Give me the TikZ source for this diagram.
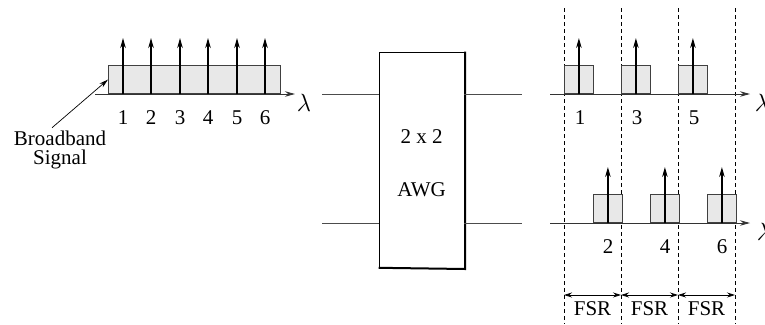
\documentclass[tikz,border=0pt]{standalone}
\usepackage{fontspec}
\setmainfont{Liberation Serif}
\usetikzlibrary{arrows.meta,positioning}

\begin{document}
\begin{tikzpicture}[
        x=1pt, y=-1pt,
        every node/.style={font=\fontsize{21}{19}\selectfont, inner sep=0pt},
        lam/.style={font=\fontsize{25}{25}\selectfont},
        band/.style={draw=black!75, fill=gray!18, line width=0.8pt, anchor=south west, minimum height=28pt},
        axis/.style={-{Stealth[length=10pt,width=5.5pt]}, line width=0.9pt, black!80},
        spike/.style={-{Stealth[length=10pt,width=5.5pt]}, line width=1.4pt},
        wire/.style={line width=0.8pt, black!70},
        fsr/.style={line width=0.6pt, dash pattern=on 4pt off 3pt},
        span/.style={{Stealth[length=8pt,width=5pt]}-{Stealth[length=8pt,width=5pt]}, line width=0.8pt}
    ]
        \useasboundingbox (0,0) rectangle (765,324);

        % input spectrum
        \node[band, minimum width=172pt] (bb) at (108,94) {};
        \coordinate (ax0) at (95,94);
        \coordinate (ax1) at (295,94);
        \draw[axis] (ax0) -- (ax1);
        \foreach \k/\x in {1/123,2/151,3/180,4/208,5/237,6/265} {
            \coordinate (s\k) at (\x,94);
            \coordinate (t\k) at (\x,38);
            \draw[spike] (s\k) -- (t\k);
            \node (n\k) at (\x,118) {\k};
        }
        \node[lam] (lam0) at (304,103) {$\lambda$};
        \node[align=center] (sig) at (60,150) {Broadband\\Signal};
        \draw[-{Stealth[length=9pt,width=5pt]}, line width=0.7pt] ([shift={(-8,-3)}]sig.north) -- (bb.west);

        % AWG
        \node[draw, line width=0.8pt, minimum width=85pt, minimum height=216pt] (awg) at (421.5,160) {};
        \draw[line width=2pt] ([xshift=0.6pt]awg.north east) -- ([shift={(0.6,0.6)}]awg.south east) -- ([yshift=0.6pt]awg.south west);
        \node (dim) at (421.5,137) {2 x 2};
        \node (lab) at (421.5,190) {AWG};
        \coordinate (i1) at (322,94);
        \coordinate (i2) at (322,223);
        \coordinate (o1) at (522,94);
        \coordinate (o2) at (522,223);
        \draw[wire] (i1) -- (i1 -| awg.west);
        \draw[wire] (i2) -- (i2 -| awg.west);
        \draw[wire] (awg.east |- o1) -- (o1);
        \draw[wire] (awg.east |- o2) -- (o2);

        % output spectra
        \foreach \j/\x in {0/564,1/621,2/678,3/735} {
            \coordinate (d\j a) at (\x,8);
            \coordinate (d\j b) at (\x,324);
            \coordinate (d\j c) at (\x,295);
            \draw[fsr] (d\j a) -- (d\j b);
        }
        \foreach \k/\x in {1/564,3/621,5/678} {
            \node[band, minimum width=29pt] (b\k) at (\x,94) {};
            \draw[spike] (b\k.south) -- ++(0,-56);
            \node (n\k r) at (\x+16,118) {\k};
        }
        \foreach \k/\x in {2/593,4/650,6/707} {
            \node[band, minimum width=29pt] (b\k) at (\x,223) {};
            \draw[spike] (b\k.south) -- ++(0,-56);
            \node (n\k r) at (\x+15,247) {\k};
        }
        \coordinate (ra0) at (550,94);
        \coordinate (ra1) at (750,94);
        \coordinate (rb0) at (550,223);
        \coordinate (rb1) at (750,223);
        \draw[axis] (ra0) -- (ra1);
        \draw[axis] (rb0) -- (rb1);
        \node[lam] (lam1) at (762,103) {$\lambda$};
        \node[lam] (lam2) at (764,232) {$\lambda$};

        % free spectral range
        \foreach \j/\k/\x in {0/1/592.5,1/2/649.5,2/3/706.5} {
            \draw[span] (d\j c) -- (d\k c);
            \node (f\j) at (\x,309) {FSR};
        }
    \end{tikzpicture}
\end{document}
